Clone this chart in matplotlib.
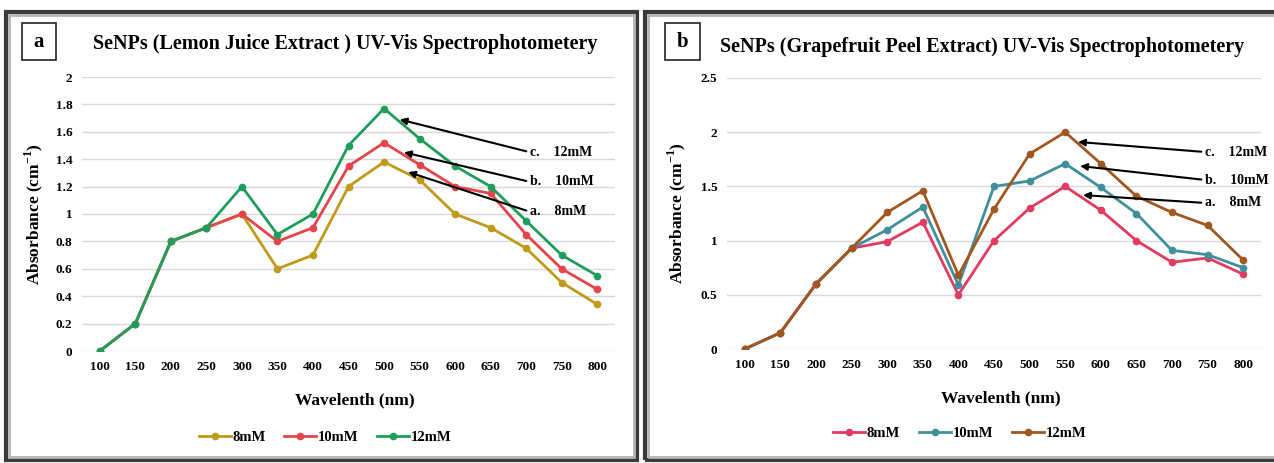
import numpy as np
import matplotlib
matplotlib.use("Agg")
import matplotlib.pyplot as plt
from matplotlib.patches import Rectangle

plt.rcParams['font.family'] = ['Liberation Serif', 'DejaVu Serif']
plt.rcParams['font.weight'] = 'bold'
plt.rcParams['mathtext.fontset'] = 'custom'
plt.rcParams['mathtext.rm'] = 'Liberation Serif:bold'
plt.rcParams['mathtext.bf'] = 'Liberation Serif:bold'

# data
wavelength = [100, 150, 200, 250, 300, 350, 400, 450, 500, 550, 600, 650, 700, 750, 800]
series_labels = ['8mM', '10mM', '12mM']

lemon_8 = [0, 0.2, 0.8, 0.9, 1.0, 0.6, 0.7, 1.2, 1.38, 1.25, 1.0, 0.9, 0.75, 0.5, 0.34]
lemon_10 = [0, 0.2, 0.8, 0.9, 1.0, 0.8, 0.9, 1.35, 1.52, 1.36, 1.2, 1.15, 0.85, 0.6, 0.45]
lemon_12 = [0, 0.2, 0.8, 0.9, 1.2, 0.85, 1.0, 1.5, 1.77, 1.55, 1.35, 1.2, 0.95, 0.7, 0.55]

grape_8 = [0, 0.15, 0.6, 0.93, 0.99, 1.17, 0.5, 1.0, 1.3, 1.5, 1.28, 1.0, 0.8, 0.84, 0.69]
grape_10 = [0, 0.15, 0.6, 0.93, 1.1, 1.31, 0.59, 1.5, 1.55, 1.71, 1.49, 1.25, 0.91, 0.87, 0.75]
grape_12 = [0, 0.15, 0.6, 0.93, 1.26, 1.46, 0.68, 1.29, 1.8, 2.0, 1.71, 1.41, 1.26, 1.14, 0.82]

lemon_colors = ['#C09A1A', '#E5444B', '#1E9E5A']
grape_colors = ['#E33A60', '#3F8F9C', '#A3561F']

W, H = 1274, 463
fig = plt.figure(figsize=(W / 100, H / 100), dpi=100)


def px_rect(x0, y0, x1, y1):
    # pixel box (top-left origin) -> figure fraction rect
    return [x0 / W, 1 - y1 / H, (x1 - x0) / W, (y1 - y0) / H]


# panel frames
for (x0, x1) in [(6, 637), (645, 1285)]:
    fr = px_rect(x0, 12, x1, 460)
    fig.patches.append(Rectangle((fr[0], fr[1]), fr[2], fr[3], transform=fig.transFigure,
                                 fill=False, edgecolor='#3a3a3a', linewidth=3.0))
    fr2 = px_rect(x0 + 3, 15, x1 - 3, 457)
    fig.patches.append(Rectangle((fr2[0], fr2[1]), fr2[2], fr2[3], transform=fig.transFigure,
                                 fill=False, edgecolor='#b5b5b5', linewidth=2.0))

# letter boxes
for lab, (x0, x1) in [('a', (22, 56)), ('b', (665, 700))]:
    fr = px_rect(x0, 23, x1, 60)
    fig.patches.append(Rectangle((fr[0], fr[1]), fr[2], fr[3], transform=fig.transFigure,
                                 fill=False, edgecolor='#222222', linewidth=1.2))
    fig.text((x0 + x1) / 2 / W, 1 - 42 / H, lab, ha='center', va='center', fontsize=15)

fig.text(345 / W, 1 - 44 / H, 'SeNPs (Lemon Juice Extract ) UV-Vis Spectrophotometery',
         ha='center', va='center', fontsize=14.5)
fig.text(982 / W, 1 - 47 / H, 'SeNPs (Grapefruit Peel Extract) UV-Vis Spectrophotometery',
         ha='center', va='center', fontsize=14.5)


def draw_panel(rect, series, colors, ylim, yticks, ytlabels, notes, leg_xy, ylab_x):
    ax = fig.add_axes(rect)
    for vals, c, lab in zip(series, colors, series_labels):
        ax.plot(wavelength, vals, color=c, lw=2.0, marker='o', ms=4.5, label=lab)
    ax.set_xlim(75, 825)
    ax.set_ylim(*ylim)
    ax.set_xticks(wavelength)
    ax.set_yticks(yticks)
    ax.set_yticklabels(ytlabels)
    ax.tick_params(length=0, labelsize=9.5, pad=7)
    for lbl in ax.get_xticklabels() + ax.get_yticklabels():
        lbl.set_fontweight('bold')
    ax.grid(axis='y', color='#d9d9d9', lw=1.0)
    ax.set_axisbelow(True)
    for s in ax.spines.values():
        s.set_visible(False)
    ax.set_xlabel('Wavelenth (nm)', fontsize=12.5, fontweight='bold')
    ax.xaxis.set_label_coords(0.512, -0.152)
    ax.set_ylabel('Absorbance (cm$^{-1}$)', fontsize=12.5, fontweight='bold')
    ax.yaxis.set_label_coords(ylab_x, 0.5)
    for txt, xy, xytext in notes:
        ax.annotate(txt, xy=xy, xytext=xytext, ha='left', va='center', fontsize=10,
                    fontweight='bold', annotation_clip=False,
                    arrowprops=dict(arrowstyle='-|>', color='black', lw=1.5,
                                    shrinkA=1, shrinkB=0, relpos=(0, 0.5),
                                    mutation_scale=10))
    ax.legend(loc='center', bbox_to_anchor=leg_xy, ncol=3, frameon=False,
              prop={'size': 10.5, 'weight': 'bold'}, handlelength=2.2, handletextpad=0.1,
              columnspacing=1.3)
    return ax


draw_panel(px_rect(82, 77, 615, 351), [lemon_8, lemon_10, lemon_12], lemon_colors,
           (0, 2), np.arange(0, 2.01, 0.2), ['0', '0.2', '0.4', '0.6', '0.8', '1', '1.2', '1.4', '1.6', '1.8', '2'],
           [('c.    12mM', (522, 1.69), (706, 1.45)),
            ('b.    10mM', (528, 1.45), (706, 1.234)),
            ('a.    8mM', (534, 1.306), (706, 1.015))],
           (0.456, -0.314), -0.07)

draw_panel(px_rect(727, 78, 1261, 349), [grape_8, grape_10, grape_12], grape_colors,
           (0, 2.5), [0, 0.5, 1, 1.5, 2, 2.5], ['0', '0.5', '1', '1.5', '2', '2.5'],
           [('c.    12mM', (568, 1.91), (747, 1.817)),
            ('b.    10mM', (571, 1.688), (747, 1.559)),
            ('a.    8mM', (575, 1.42), (747, 1.347))],
           (0.436, -0.31), -0.073)

fig.savefig('out.png', dpi=100)
